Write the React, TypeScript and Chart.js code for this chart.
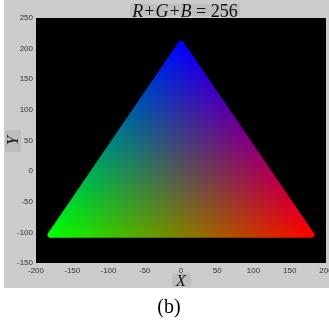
import React, { useEffect, useRef } from 'react';
import { Chart, registerables } from 'chart.js';

Chart.register(...registerables);

// ---- data ----
const cornerNames = ['G', 'B', 'R'];
const cornerX = [-180, 0, 180];
const cornerY = [-104, 208, -104];
const cornerRGB = [
  [0, 255, 0],
  [0, 0, 255],
  [255, 0, 0],
];
const xTicks = [-200, -150, -100, -50, 0, 50, 100, 150, 200];
const yTicks = [-150, -100, -50, 0, 50, 100, 150, 200, 250];
const titleItalic = 'R+G+B';
const titleRest = ' = 256';
const xTitle = 'X';
const yTitle = 'Y';
const caption = '(b)';

// outline path through the corners (closed)
const outline = [...cornerX.map((x, i) => ({ x, y: cornerY[i] })), { x: cornerX[0], y: cornerY[0] }];

function triPattern(chart: any): any {
  const xs = chart.scales?.x;
  const ys = chart.scales?.y;
  if (!xs || !ys || !chart.chartArea) return 'rgba(0,0,0,0)';
  const P = cornerX.map((cx, i) => [xs.getPixelForValue(cx), ys.getPixelForValue(cornerY[i])]);
  const key = P.map((p) => p.join(',')).join(';') + chart.width + 'x' + chart.height;
  if (chart.$triKey === key && chart.$triPat) return chart.$triPat;
  const w = chart.width;
  const h = chart.height;
  const off = document.createElement('canvas');
  off.width = w;
  off.height = h;
  const octx = off.getContext('2d')!;
  const img = octx.createImageData(w, h);
  const [a, b, c] = P;
  const det = (b[1] - c[1]) * (a[0] - c[0]) + (c[0] - b[0]) * (a[1] - c[1]);
  for (let py = 0; py < h; py++) {
    for (let px = 0; px < w; px++) {
      const X = px + 0.5;
      const Y = py + 0.5;
      let l1 = ((b[1] - c[1]) * (X - c[0]) + (c[0] - b[0]) * (Y - c[1])) / det;
      let l2 = ((c[1] - a[1]) * (X - c[0]) + (a[0] - c[0]) * (Y - c[1])) / det;
      let l3 = 1 - l1 - l2;
      l1 = Math.max(0, l1);
      l2 = Math.max(0, l2);
      l3 = Math.max(0, l3);
      const s = l1 + l2 + l3 || 1;
      l1 /= s;
      l2 /= s;
      l3 /= s;
      const o = (py * w + px) * 4;
      for (let k = 0; k < 3; k++) {
        img.data[o + k] = Math.round(l1 * cornerRGB[0][k] + l2 * cornerRGB[1][k] + l3 * cornerRGB[2][k]);
      }
      img.data[o + 3] = 255;
    }
  }
  octx.putImageData(img, 0, 0);
  const pat = chart.ctx.createPattern(off, 'no-repeat');
  chart.$triKey = key;
  chart.$triPat = pat;
  return pat;
}

const panelPlugin = {
  id: 'panel',
  beforeDraw(chart: any) {
    const ctx = chart.ctx;
    const a = chart.chartArea;
    ctx.save();
    ctx.fillStyle = '#ffffff';
    ctx.fillRect(0, 0, chart.width, chart.height);
    ctx.fillStyle = '#cccccc';
    ctx.fillRect(4, 0, chart.width - 4, 288);
    ctx.fillStyle = '#bebebe';
    ctx.fillRect(130, 4, 110, 12);
    ctx.fillRect(5, 130, 16, 22);
    ctx.fillRect(172, 273, 19, 14);
    ctx.fillStyle = '#000000';
    ctx.fillRect(a.left, a.top, a.right - a.left, a.bottom - a.top);
    ctx.restore();
  },
};

export default function App() {
  const ref = useRef<HTMLCanvasElement>(null);
  useEffect(() => {
    const chart = new Chart(ref.current!, {
      type: 'line',
      data: {
        datasets: [
          {
            label: cornerNames.join(''),
            data: outline,
            fill: 'shape',
            backgroundColor: (ctx: any) => triPattern(ctx.chart),
            borderColor: (ctx: any) => triPattern(ctx.chart),
            borderWidth: 6,
            borderJoinStyle: 'round',
            borderCapStyle: 'round',
            pointRadius: 0,
            tension: 0,
          } as any,
        ],
      },
      options: {
        animation: false,
        responsive: false,
        devicePixelRatio: 1,
        events: [],
        layout: { padding: { left: 0, top: 18, right: 3, bottom: 0 }, autoPadding: false },
        plugins: { legend: { display: false }, tooltip: { enabled: false }, title: { display: false } },
        scales: {
          x: {
            type: 'linear',
            min: -200,
            max: 200,
            afterBuildTicks: (s: any) => {
              s.ticks = xTicks.map((v) => ({ value: v }));
            },
            afterFit: (s: any) => {
              s.height = 57;
              s.paddingLeft = 0;
              s.paddingRight = 0;
            },
            grid: { display: false, drawTicks: false },
            border: { display: false },
            ticks: {
              padding: 3,
              maxRotation: 0,
              autoSkip: false,
              color: '#333',
              font: { family: 'Liberation Sans', size: 8 },
            },
            title: {
              display: true,
              text: xTitle,
              color: '#111',
              font: { family: 'Liberation Serif', size: 16, style: 'italic' },
              padding: { top: 0, bottom: 29 },
            },
          },
          y: {
            type: 'linear',
            min: -150,
            max: 250,
            afterBuildTicks: (s: any) => {
              s.ticks = yTicks.map((v) => ({ value: v }));
            },
            afterFit: (s: any) => {
              s.width = 36;
              s.paddingTop = 0;
              s.paddingBottom = 0;
            },
            grid: { display: false, drawTicks: false },
            border: { display: false },
            ticks: {
              padding: 3,
              autoSkip: false,
              color: '#333',
              font: { family: 'Liberation Sans', size: 8 },
            },
            title: {
              display: true,
              text: yTitle,
              color: '#111',
              font: { family: 'Liberation Serif', size: 17, style: 'italic' },
              padding: { top: 3, bottom: 0 },
            },
          },
        },
      } as any,
      plugins: [panelPlugin],
    });
    return () => chart.destroy();
  }, []);

  return (
    <div style={{ position: 'absolute', left: 0, top: 0, width: 329, height: 320, background: '#fff', overflow: 'hidden' }}>
      <canvas ref={ref} width={329} height={320} style={{ position: 'absolute', left: 0, top: 0, width: 329, height: 320 }} />
      <div
        style={{
          position: 'absolute',
          left: 85,
          top: 2,
          width: 200,
          textAlign: 'center',
          font: "18px/18px 'Liberation Serif'",
          color: '#111',
          whiteSpace: 'pre',
        }}
      >
        <i>{titleItalic}</i>
        {titleRest}
      </div>
      <div
        style={{
          position: 'absolute',
          left: 119,
          top: 296,
          width: 100,
          textAlign: 'center',
          font: "20px/20px 'Liberation Serif'",
          color: '#000',
        }}
      >
        {caption}
      </div>
    </div>
  );
}
